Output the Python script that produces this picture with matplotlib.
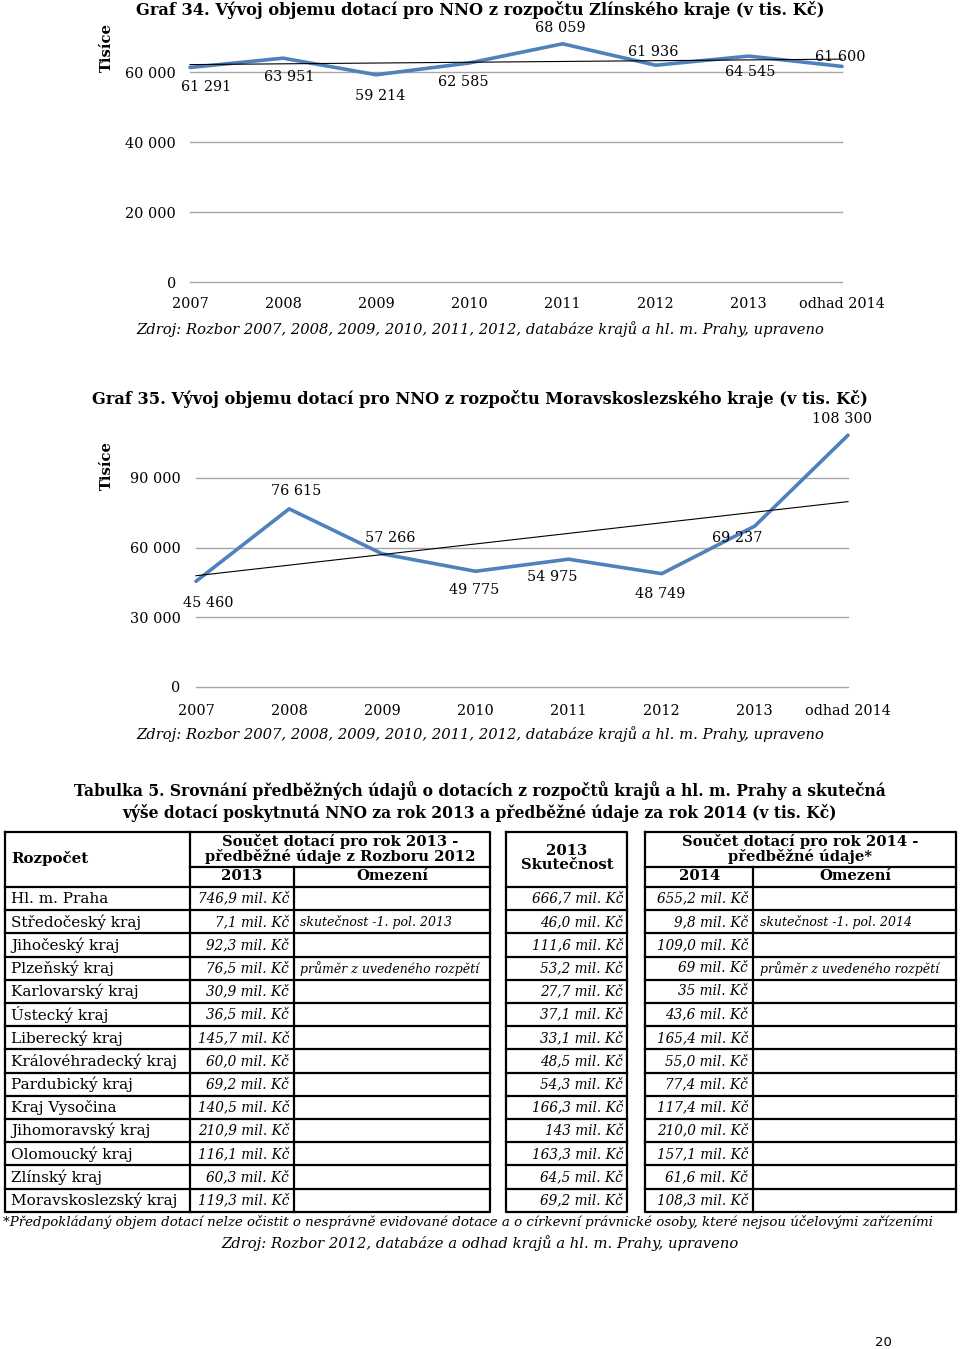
import numpy as np
import matplotlib
matplotlib.use("Agg")
import matplotlib.pyplot as plt

W, H = 960, 1349

# --- data -------------------------------------------------------------
years = ["2007", "2008", "2009", "2010", "2011", "2012", "2013", "odhad 2014"]
zlin = [61291, 63951, 59214, 62585, 68059, 61936, 64545, 61600]
msk = [45460, 76615, 57266, 49775, 54975, 48749, 69237, 108300]
zlin_ticks = [0, 20000, 40000, 60000]
msk_ticks = [0, 30000, 60000, 90000]

regions = ["Hl. m. Praha", "Středočeský kraj", "Jihočeský kraj", "Plzeňský kraj",
           "Karlovarský kraj", "Ústecký kraj", "Liberecký kraj", "Královéhradecký kraj",
           "Pardubický kraj", "Kraj Vysočina", "Jihomoravský kraj", "Olomoucký kraj",
           "Zlínský kraj", "Moravskoslezský kraj"]
plan_2013 = ["746,9", "7,1", "92,3", "76,5", "30,9", "36,5", "145,7", "60,0",
             "69,2", "140,5", "210,9", "116,1", "60,3", "119,3"]
actual_2013 = ["666,7", "46,0", "111,6", "53,2", "27,7", "37,1", "33,1", "48,5",
               "54,3", "166,3", "143", "163,3", "64,5", "69,2"]
plan_2014 = ["655,2", "9,8", "109,0", "69", "35", "43,6", "165,4", "55,0",
             "77,4", "117,4", "210,0", "157,1", "61,6", "108,3"]
limit_2013 = {1: "skutečnost -1. pol. 2013", 3: "průměr z uvedeného rozpětí"}
limit_2014 = {1: "skutečnost -1. pol. 2014", 3: "průměr z uvedeného rozpětí"}

SERIF = "DejaVu Serif"
plt.rcParams["font.family"] = SERIF


def fmt(v):
    return f"{v:,}".replace(",", " ")


fig = plt.figure(figsize=(W / 100, H / 100), dpi=100)
page = fig.add_axes([0, 0, 1, 1])
page.set_xlim(0, W)
page.set_ylim(H, 0)
page.axis("off")


def line_chart(left, top, right, bottom, values, ticks, ymax, offsets, xpad, ypad):
    ax = fig.add_axes([left / W, 1 - bottom / H, (right - left) / W, (bottom - top) / H])
    x = np.arange(len(values))
    k, b = np.polyfit(x, values, 1)
    ax.plot(x, values, color="#4F81BD", lw=2.6, solid_joinstyle="round",
            solid_capstyle="round", clip_on=False, zorder=3)
    ax.plot(x, k * x + b, color="black", lw=0.8, clip_on=False, zorder=4)
    ax.set_xlim(0, len(values) - 1)
    ax.set_ylim(0, ymax)
    ax.set_xticks(x)
    ax.set_xticklabels(years)
    ax.set_yticks(ticks)
    ax.set_yticklabels([fmt(t) for t in ticks])
    ax.grid(axis="y", color="#A6A6A6", lw=1)
    for g in ax.get_ygridlines():
        g.set_clip_on(False)
    ax.set_axisbelow(True)
    for s in ax.spines.values():
        s.set_visible(False)
    ax.tick_params(axis="x", length=0, labelsize=10.4, pad=xpad)
    ax.tick_params(axis="y", length=0, labelsize=10.4, pad=ypad)
    ax.patch.set_alpha(0)
    # label offsets in px (dx right, dy down)
    for xi, v, (dx, dy) in zip(x, values, offsets):
        ax.annotate(fmt(v), (xi, v), xytext=(dx * 0.72, -dy * 0.72),
                    textcoords="offset points", ha="center", va="center",
                    fontsize=10.4, annotation_clip=False)
    return ax


# --- Graf 34 ----------------------------------------------------------
page.text(480, 10, "Graf 34. Vývoj objemu dotací pro NNO z rozpočtu Zlínského kraje (v tis. Kč)",
          ha="center", va="center", fontsize=11.7, fontweight="bold")
line_chart(190, 37, 842, 282, zlin, zlin_ticks, 70000,
           [(16, 20), (6, 19), (4, 21), (-6, 19), (-2, -16), (-3, -13), (1, 16), (-2, -9)],
           xpad=11, ypad=10)
page.text(107, 47, "Tisíce", rotation=90, ha="center", va="center",
          fontsize=10.6, fontweight="bold")
page.text(480, 329, "Zdroj: Rozbor 2007, 2008, 2009, 2010, 2011, 2012, databáze krajů a hl. m. Prahy, upraveno",
          ha="center", va="center", fontsize=10.6, style="italic")

# --- Graf 35 ----------------------------------------------------------
page.text(480, 399, "Graf 35. Vývoj objemu dotací pro NNO z rozpočtu Moravskoslezského kraje (v tis. Kč)",
          ha="center", va="center", fontsize=11.7, fontweight="bold")
line_chart(196, 408, 848, 687, msk, msk_ticks, 120000,
           [(12, 22), (7, -18), (8, -16), (-1, 19), (-16, 18), (-2, 20), (-18, 12), (-6, -16)],
           xpad=12, ypad=11)
page.text(107, 465, "Tisíce", rotation=90, ha="center", va="center",
          fontsize=10.6, fontweight="bold")
page.text(480, 734, "Zdroj: Rozbor 2007, 2008, 2009, 2010, 2011, 2012, databáze krajů a hl. m. Prahy, upraveno",
          ha="center", va="center", fontsize=10.6, style="italic")

# --- Tabulka 5 --------------------------------------------------------
page.text(480, 791, "Tabulka 5. Srovnání předběžných údajů o dotacích z rozpočtů krajů a hl. m. Prahy a skutečná",
          ha="center", va="center", fontsize=11.2, fontweight="bold")
page.text(480, 813, "výše dotací poskytnutá NNO za rok 2013 a předběžné údaje za rok 2014 (v tis. Kč)",
          ha="center", va="center", fontsize=11.2, fontweight="bold")

row_h = 23.2
y_head, y_sub, y_body = 832, 867, 887
y_end = y_body + len(regions) * row_h
lw = 1.6
line = dict(color="black", lw=lw, solid_capstyle="projecting")

for x0, x1 in [(5, 490), (506, 627), (645, 956)]:
    page.plot([x0, x1, x1, x0, x0], [y_head, y_head, y_end, y_end, y_head], **line)
    for i in range(len(regions)):
        yy = y_body + i * row_h
        page.plot([x0, x1], [yy, yy], **line)
page.plot([190, 490], [y_sub, y_sub], **line)
page.plot([645, 956], [y_sub, y_sub], **line)
page.plot([190, 190], [y_head, y_end], **line)
page.plot([294, 294], [y_sub, y_end], **line)
page.plot([753, 753], [y_sub, y_end], **line)

hdr = dict(ha="center", va="center", fontsize=10.6, fontweight="bold", linespacing=0.92)
page.text(11, 858, "Rozpočet", ha="left", va="center", fontsize=10.8, fontweight="bold")
page.text(340, 849, "Součet dotací pro rok 2013 -\npředběžné údaje z Rozboru 2012", **hdr)
page.text(242, 876, "2013", **hdr)
page.text(392, 876, "Omezení", **hdr)
page.text(567, 858, "2013\nSkutečnost", **hdr)
page.text(800, 849, "Součet dotací pro rok 2014 -\npředběžné údaje*", **hdr)
page.text(700, 876, "2014", **hdr)
page.text(855, 876, "Omezení", **hdr)

for i, name in enumerate(regions):
    yc = y_body + (i + 0.5) * row_h
    page.text(11, yc, name, ha="left", va="center", fontsize=11)
    page.text(289, yc, plan_2013[i] + " mil. Kč", ha="right", va="center",
              fontsize=9.8, style="italic")
    page.text(623, yc, actual_2013[i] + " mil. Kč", ha="right", va="center",
              fontsize=9.8, style="italic")
    page.text(748, yc, plan_2014[i] + " mil. Kč", ha="right", va="center",
              fontsize=9.8, style="italic")
    if i in limit_2013:
        page.text(300, yc, limit_2013[i], ha="left", va="center", fontsize=9, style="italic")
    if i in limit_2014:
        page.text(760, yc, limit_2014[i], ha="left", va="center", fontsize=9, style="italic")

page.text(3, 1222, "*Předpokládaný objem dotací nelze očistit o nesprávně evidované dotace a o církevní "
          "právnické osoby, které nejsou účelovými zařízeními",
          ha="left", va="center", fontsize=9.6, style="italic")
page.text(480, 1243, "Zdroj: Rozbor 2012, databáze a odhad krajů a hl. m. Prahy, upraveno",
          ha="center", va="center", fontsize=10.6, style="italic")

page.text(883, 1343, "20", ha="center", va="center", fontsize=9.5, family="DejaVu Sans")

fig.savefig("out.png", dpi=100)
